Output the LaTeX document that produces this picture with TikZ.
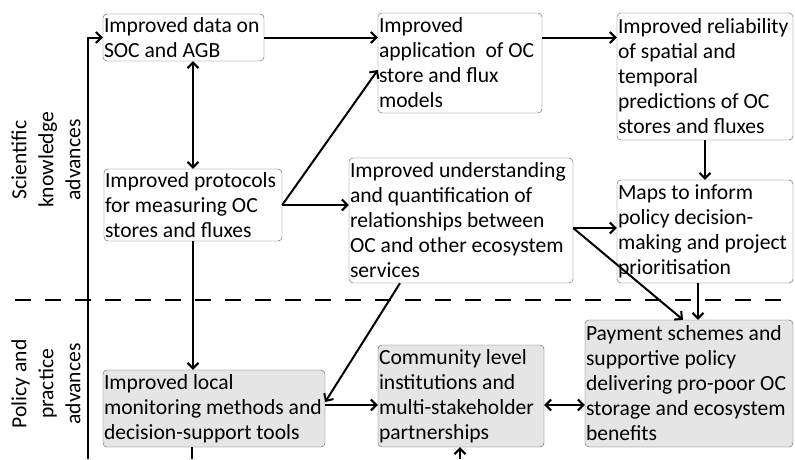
\documentclass[tikz,border=0pt]{standalone}
\usepackage{fontspec}
\setmainfont{Carlito}
\usetikzlibrary{arrows.meta}

\begin{document}
\begin{tikzpicture}[x=1pt,y=-1pt]

\tikzset{box/.style = {shape=rectangle,draw=black!65,rounded corners=4pt,align=flush left,inner xsep=1pt,inner ysep=3pt,font=\fontsize{21.6}{25}\selectfont}}
\tikzset{greybox/.style = {box,fill=black!10}}
\tikzset{side/.style = {rotate=90,align=center,font=\fontsize{21.6}{27}\selectfont}}
\tikzset{edge/.style = {-{Straight Barb[length=5.5pt,width=11pt]},line width=2pt}}
\tikzset{biedge/.style = {{Straight Barb[length=5.5pt,width=11pt]}-{Straight Barb[length=5.5pt,width=11pt]},line width=2pt}}
\useasboundingbox (0,0) rectangle (795,459);

\node[box, text width=159pt, minimum height=47pt] (data) at (183.5,37.5) {Improved data on\\SOC and AGB};
\node[box, text width=162pt, minimum height=100pt] (app) at (460,63) {Improved\\application\ \ of OC\\store and flux\\models};
\node[box, text width=174pt, minimum height=127pt] (rel) at (705,76.5) {Improved reliability\\of spatial and\\temporal\\predictions of OC\\stores and fluxes};
\node[box, text width=176pt, minimum height=72pt] (prot) at (193,205) {Improved protocols\\for measuring OC\\stores and fluxes};
\node[box, text width=222pt, minimum height=125pt] (und) at (461,220.5) {Improved understanding\\and quantification of\\relationships between\\OC and other ecosystem\\services};
\node[box, text width=174pt, minimum height=103pt] (maps) at (705,231.5) {Maps to inform\\policy decision-\\making and project\\prioritisation};
\node[greybox, text width=220pt, minimum height=77pt] (local) at (214,408.5) {Improved local\\monitoring methods and\\decision-support tools};
\node[greybox, text width=164pt, minimum height=102pt] (comm) at (461,396) {Community level\\institutions and\\multi-stakeholder\\partnerships};
\node[greybox, text width=206pt, minimum height=127pt] (pay) at (689,383.5) {Payment schemes and\\supportive policy\\delivering pro-poor OC\\storage and ecosystem\\benefits};

\node[side] (sci) at (46,160) {Scientific\\knowledge\\advances};
\node[side] (pol) at (46,384) {Policy and\\practice\\advances};

%divider
\coordinate (dl) at (15,300);
\coordinate (dr) at (795,300);
\draw[line width=2pt, dash pattern=on 16pt off 14pt] (dl) -- (dr);

%edges
\draw[edge] (data.east) -- (data.east -| app.west);
\draw[edge] (app.east |- data.east) -- (rel.west |- data.east);
\draw[biedge] (prot.north |- data.south) -- (prot.north);
\draw[edge] (prot.east) -- ([yshift=-7pt]app.west);
\draw[edge] (prot.east) -- (prot.east -| und.west);
\draw[edge] (rel.south) -- (maps.north);
\draw[edge] ([yshift=3.5pt]und.east |- maps.west) -- ([yshift=3.5pt]maps.west);
\coordinate (p1) at ([xshift=-6pt]pay.north);
\coordinate (p2) at ([xshift=9pt]pay.north);
\draw[edge] ([yshift=3.5pt]und.east |- maps.west) -- (p1);
\draw[edge] (maps.south -| p2) -- (p2);
\draw[edge] (prot.south) -- (prot.south |- local.north);
\draw[edge] ([xshift=-61pt]und.south) -- ([yshift=6.5pt]local.east);
\draw[edge] ([yshift=3.5pt]local.east) -- ([yshift=3.5pt]local.east -| comm.west);
\draw[biedge] ([yshift=3.5pt]comm.east |- local.east) -- ([yshift=3.5pt]pay.west |- local.east);

%loop back
\coordinate (b1) at (192,459);
\coordinate (b2) at (460,459);
\coordinate (b3) at (88,459);
\draw[line width=2pt] (b1 |- local.south) -- (b1);
\draw[edge] (b2) -- (b2 |- comm.south);
\draw[edge] (b3) -- (b3 |- data.west) -- (data.west);
\end{tikzpicture}
\end{document}
